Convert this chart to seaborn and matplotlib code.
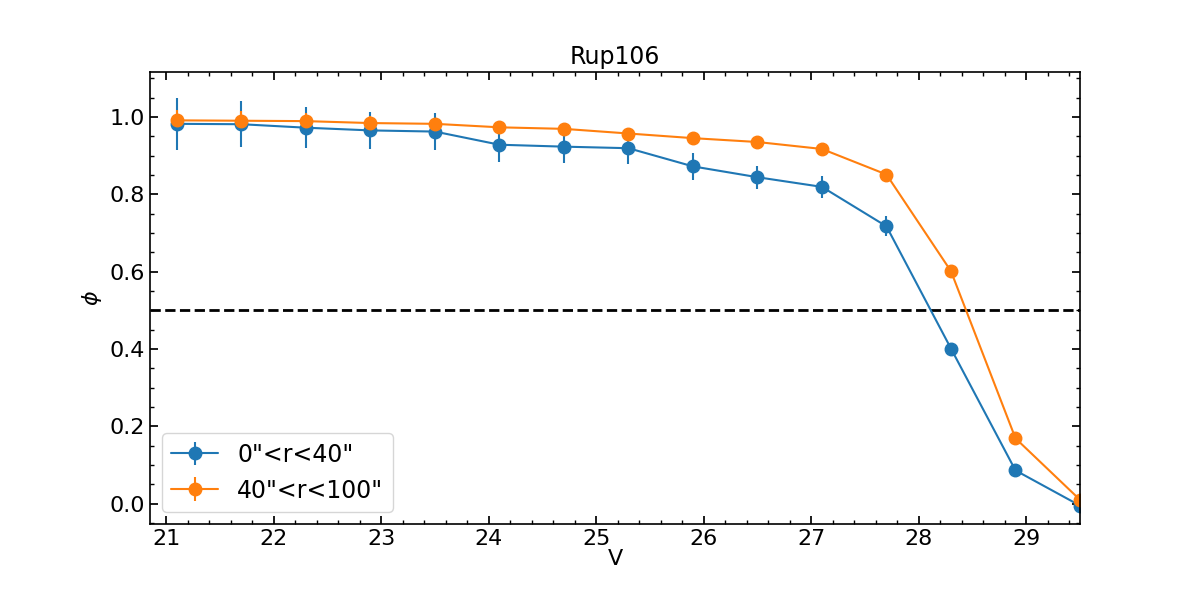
import numpy as np
import pandas as pd
import matplotlib
matplotlib.use("Agg")
import matplotlib.pyplot as plt
import seaborn as sns
from matplotlib.ticker import AutoMinorLocator

# Data
V = [21.1, 21.7, 22.3, 22.9, 23.5, 24.1, 24.7, 25.3, 25.9, 26.5, 27.1, 27.7, 28.3, 28.9, 29.5]
phi_inner = [0.982, 0.981, 0.972, 0.965, 0.962, 0.928, 0.923, 0.919, 0.872, 0.844, 0.819, 0.717, 0.401, 0.086, -0.005]
err_inner = [0.068, 0.060, 0.053, 0.048, 0.047, 0.045, 0.041, 0.041, 0.034, 0.030, 0.028, 0.026, 0.012, 0.008, 0.004]
phi_outer = [0.991, 0.990, 0.989, 0.984, 0.982, 0.973, 0.969, 0.957, 0.945, 0.935, 0.917, 0.851, 0.601, 0.169, 0.010]
err_outer = [0.026, 0.024, 0.020, 0.017, 0.016, 0.016, 0.015, 0.012, 0.010, 0.009, 0.008, 0.008, 0.006, 0.006, 0.003]
labels = ['0"<r<40"', '40"<r<100"']
title = "Rup106"

sns.set_theme(style="ticks")
plt.rcParams.update({
    "font.family": ["DejaVu Sans"],
    "xtick.direction": "in", "ytick.direction": "in",
    "xtick.top": True, "ytick.right": True,
    "xtick.major.size": 6, "ytick.major.size": 6,
    "xtick.minor.size": 3, "ytick.minor.size": 3,
    "axes.edgecolor": "black",
    "text.color": "black", "axes.labelcolor": "black",
    "xtick.color": "black", "ytick.color": "black",
    "axes.linewidth": 1.2,
})

fig, ax = plt.subplots(figsize=(12, 6), dpi=100)
fig.subplots_adjust(left=0.125, right=0.9, bottom=0.127, top=0.88)

cols = ["#1f77b4", "#ff7f0e"]
for y, e, lab, c in [(phi_inner, err_inner, labels[0], cols[0]),
                     (phi_outer, err_outer, labels[1], cols[1])]:
    ax.errorbar(V, y, yerr=e, fmt="o-", color=c, ms=9, lw=1.5, elinewidth=1.5, label=lab)

ax.axhline(0.5, color="black", ls="--", lw=2)

ax.set_xlim(20.85, 29.5)
ax.set_ylim(-0.052, 1.116)
ax.xaxis.set_minor_locator(AutoMinorLocator(5))
ax.yaxis.set_minor_locator(AutoMinorLocator(4))
ax.tick_params(which="both", top=True, right=True, direction="in", labelsize=16, colors="black")
ax.set_xlabel("V", fontsize=16, labelpad=0)
ax.set_ylabel(r"$\phi$", fontsize=16)
ax.set_title(title, fontsize=17)
ax.legend(loc="lower left", fontsize=17, frameon=True)

fig.savefig("out.png", dpi=100)
